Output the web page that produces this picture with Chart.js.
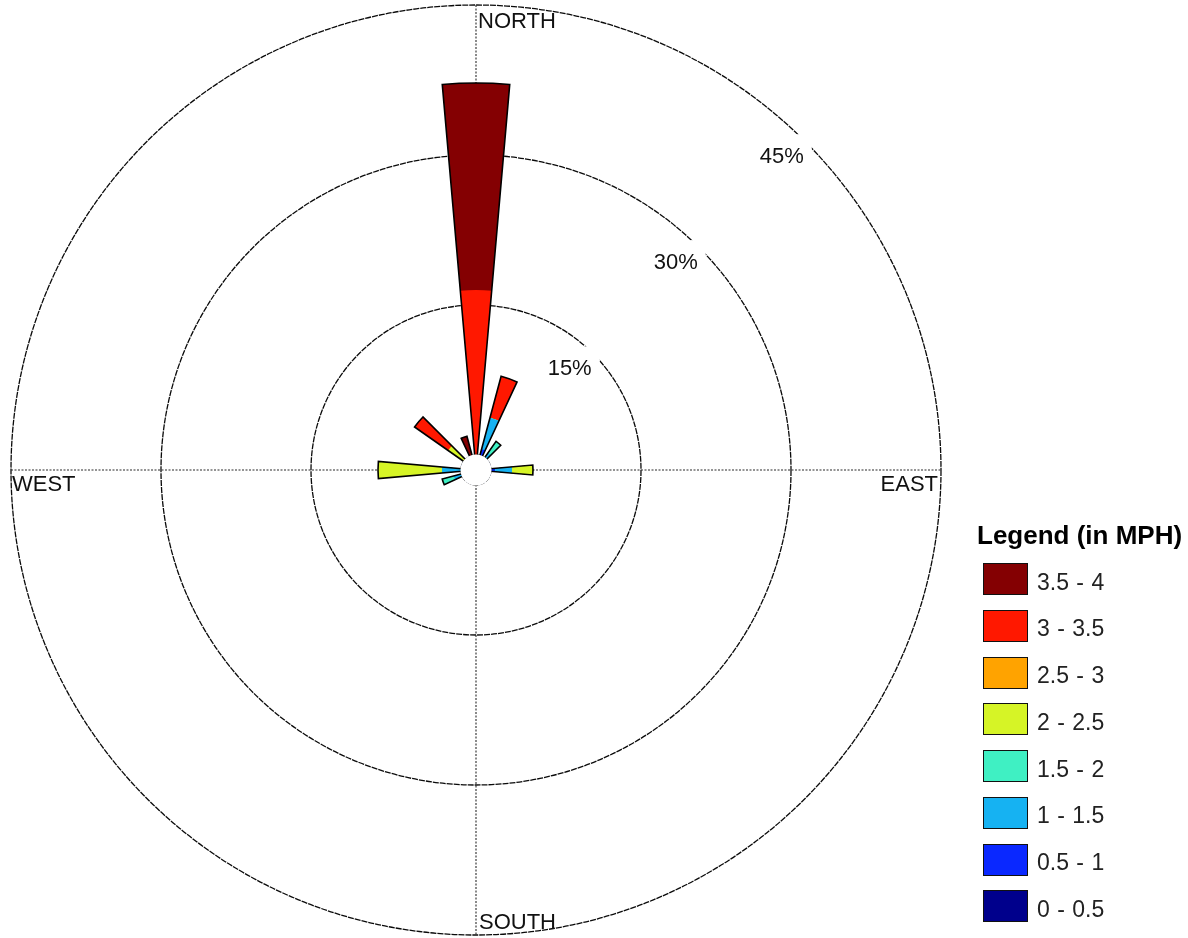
<!DOCTYPE html>
<html>
<head>
<meta charset="utf-8">
<title>Wind rose</title>
<script src="https://cdn.jsdelivr.net/npm/chart.js@4.4.1/dist/chart.umd.min.js"></script>
<style>
  html, body { margin: 0; padding: 0; background: #fff; }
  #wrap { position: relative; width: 1188px; height: 938px; overflow: hidden;
          font-family: "Liberation Sans", Arial, Helvetica, sans-serif; color: #000; }
  #rose { position: absolute; left: 0; top: 0; }
  #legend { position: absolute; left: 977px; top: 520px; }
  #legend .title { font-weight: bold; font-size: 26px; line-height: 30px; white-space: nowrap; }
  #legend ul { list-style: none; margin: 0; padding: 0; position: absolute; left: 6px; top: 43px; }
  #legend li { height: 32px; margin: 0 0 14.75px 0; display: flex; align-items: center; white-space: nowrap; }
  #legend .box { width: 45px; height: 32px; box-sizing: border-box; border: 1.5px solid #111; flex: none; }
  #legend .txt { font-size: 23px; word-spacing: 1px; margin-left: 9px; position: relative; top: 3px; color: #222; }
</style>
</head>
<body>
<div id="wrap">
  <canvas id="rose" width="1188" height="938"></canvas>
  <div id="legend"><div class="title">Legend (in MPH)</div><ul id="legendItems"></ul></div>
</div>
<script>
// Direction bins (degrees clockwise from north), 10° wide
const directions = [0, 10, 20, 30, 40, 50, 60, 70, 80, 90, 100, 110,
                    120, 130, 140, 150, 160, 170, 180, 190, 200, 210, 220, 230,
                    240, 250, 260, 270, 280, 290, 300, 310, 320, 330, 340, 350];

// Wind speed classes (MPH) and their colours
const speedBands = ['0 - 0.5', '0.5 - 1', '1 - 1.5', '1.5 - 2', '2 - 2.5', '2.5 - 3', '3 - 3.5', '3.5 - 4'];
const bandColors = ['#00008c', '#0a28ff', '#16b2f2', '#3ff0c3', '#d6f426', '#ffa300', '#ff1800', '#840002'];

// Frequency (% of time) for each speed class, one value per direction bin
//                 0    10   20    30  40   50 60 70 80  90  100 110 120 130 140 150 160 170 180 190 200 210 220 230 240 250  260 270  280 290 300 310  320 330 340  350
const freq_0_05  = [0,   0,  0,    0,  0,   0, 0, 0, 0,  0,   0, 0,  0,  0,  0,  0,  0,  0,  0,  0,  0,  0,  0,  0,  0,  0,   0,  0,   0,  0,  0,  0,   0,  0,  0,   0];
const freq_05_1  = [0,   0,  0.65, 0,  0,   0, 0, 0, 0,  0.4, 0, 0,  0,  0,  0,  0,  0,  0,  0,  0,  0,  0,  0,  0,  0,  0,   0,  0,   0,  0,  0,  0,   0,  0,  0,   0];
const freq_1_15  = [0,   0,  3.25, 0,  0.6, 0, 0, 0, 0,  1.7, 0, 0,  0,  0,  0,  0,  0,  0,  0,  0,  0,  0,  0,  0,  0,  0.8, 0,  1.9, 0,  0,  0,  0,   0,  0,  0,   0];
const freq_15_2  = [0,   0,  0,    0,  1.4, 0, 0, 0, 0,  0,   0, 0,  0,  0,  0,  0,  0,  0,  0,  0,  0,  0,  0,  0,  0,  1.2, 0,  0,   0,  0,  0,  0,   0,  0,  0,   0];
const freq_2_25  = [0,   0,  0,    0,  0,   0, 0, 0, 0,  2.1, 0, 0,  0,  0,  0,  0,  0,  0,  0,  0,  0,  0,  0,  0,  0,  0,   0,  6.4, 0,  0,  0,  1.9, 0,  0,  0,   0];
const freq_25_3  = [0,   0,  0,    0,  0,   0, 0, 0, 0,  0,   0, 0,  0,  0,  0,  0,  0,  0,  0,  0,  0,  0,  0,  0,  0,  0,   0,  0,   0,  0,  0,  0,   0,  0,  0,   0];
const freq_3_35  = [16.5,0,  4.3,  0,  0,   0, 0, 0, 0,  0,   0, 0,  0,  0,  0,  0,  0,  0,  0,  0,  0,  0,  0,  0,  0,  0,   0,  0,   0,  0,  0,  4.1, 0,  0,  0,   0];
const freq_35_4  = [20.7,0,  0,    0,  0,   0, 0, 0, 0,  0,   0, 0,  0,  0,  0,  0,  0,  0,  0,  0,  0,  0,  0,  0,  0,  0,   0,  0,   0,  0,  0,  0,   0,  0,  2.0, 0];

const bandFreqs = [freq_0_05, freq_05_1, freq_1_15, freq_15_2, freq_2_25, freq_25_3, freq_3_35, freq_35_4];

// Percentage rings and their labels
const ringValues = [15, 30, 45];
const ringLabels = ['15%', '30%', '45%'];

// Compass labels
const compassLabels = { north: 'NORTH', east: 'EAST', south: 'SOUTH', west: 'WEST' };

// Each speed class is drawn as a polar-area layer reaching its cumulative frequency;
// the lower classes sit on top, so every petal shows its stacked bands.
const cumulative = [];
let running = directions.map(() => 0);
bandFreqs.forEach(freqs => {
  running = running.map((v, i) => Math.round((v + freqs[i]) * 1000) / 1000);
  cumulative.push(running.slice());
});
const totals = cumulative[cumulative.length - 1];

const datasets = speedBands.map((label, b) => ({
  label,
  data: cumulative[b],
  backgroundColor: bandColors[b],
  borderWidth: 0
}));

const roseDecor = {
  id: 'roseDecor',
  beforeDatasetsDraw(chart) {
    const s = chart.scales.r, ctx = chart.ctx;
    const cx = s.xCenter, cy = s.yCenter;
    const R = s.getDistanceFromCenterForValue(s.max);
    ctx.save();
    // north-south and east-west axes
    ctx.strokeStyle = '#2a2a2a';
    ctx.lineWidth = 1.1;
    ctx.setLineDash([2, 1.5]);
    ctx.beginPath();
    ctx.moveTo(cx, cy - R); ctx.lineTo(cx, cy + R);
    ctx.moveTo(cx - R, cy); ctx.lineTo(cx + R, cy);
    ctx.stroke();
    ctx.setLineDash([]);
    // ring labels on a white backdrop near the 45° point of each ring
    ctx.font = '22px "Liberation Sans", Arial, sans-serif';
    ctx.textAlign = 'right';
    ctx.textBaseline = 'alphabetic';
    ringValues.forEach((v, i) => {
      const r = s.getDistanceFromCenterForValue(v);
      const px = cx + r * Math.SQRT1_2, py = cy - r * Math.SQRT1_2;
      const w = ctx.measureText(ringLabels[i]).width;
      ctx.fillStyle = '#fff';
      ctx.fillRect(px - w - 4, py - 7, w + 11, 36);
      ctx.fillStyle = '#111';
      ctx.fillText(ringLabels[i], px - 1, py + 22);
    });
    ctx.restore();
  },
  afterDatasetsDraw(chart) {
    const s = chart.scales.r, ctx = chart.ctx;
    const meta = chart.getDatasetMeta(datasets.length - 1);
    ctx.save();
    // outline every petal
    ctx.strokeStyle = '#000';
    ctx.lineWidth = 1.6;
    ctx.lineJoin = 'miter';
    meta.data.forEach((el, i) => {
      if (!(totals[i] > 0)) return;
      ctx.beginPath();
      ctx.moveTo(el.x, el.y);
      ctx.arc(el.x, el.y, el.outerRadius, el.startAngle, el.endAngle);
      ctx.closePath();
      ctx.stroke();
    });
    // calm circle in the middle
    ctx.fillStyle = '#fff';
    ctx.beginPath();
    ctx.arc(s.xCenter, s.yCenter, s.getDistanceFromCenterForValue(0) + 0.5, 0, Math.PI * 2);
    ctx.fill();
    ctx.restore();
  },
  afterDraw(chart) {
    const s = chart.scales.r, ctx = chart.ctx;
    const cx = s.xCenter, cy = s.yCenter;
    const R = s.getDistanceFromCenterForValue(s.max);
    ctx.save();
    ctx.font = '22px "Liberation Sans", Arial, sans-serif';
    ctx.fillStyle = '#111';
    ctx.textBaseline = 'alphabetic';
    ctx.textAlign = 'left';
    ctx.fillText(compassLabels.north, cx + 2, cy - R + 23);
    ctx.fillText(compassLabels.south, cx + 3, cy + R - 6);
    ctx.fillText(compassLabels.west, cx - R + 1, cy + 21);
    ctx.textAlign = 'right';
    ctx.fillText(compassLabels.east, cx + R - 3, cy + 21);
    ctx.restore();
  }
};

new Chart(document.getElementById('rose'), {
  type: 'polarArea',
  data: { labels: directions.map(d => d + '°'), datasets },
  options: {
    responsive: false,
    animation: false,
    events: [],
    layout: { padding: { left: 11, right: 247, top: 5, bottom: 3 } },
    plugins: { legend: { display: false }, tooltip: { enabled: false } },
    scales: {
      r: {
        min: -1.5,
        max: 45,
        startAngle: -5,
        afterBuildTicks: scale => { scale.ticks = [0].concat(ringValues).map(v => ({ value: v })); },
        ticks: { display: false },
        grid: { circular: true, color: '#0a0a0a', lineWidth: 1.3 },
        border: { dash: [6, 1] },
        angleLines: { display: false },
        pointLabels: { display: false }
      }
    }
  },
  plugins: [roseDecor]
});

// Legend, highest speed class first
const list = document.getElementById('legendItems');
speedBands.slice().reverse().forEach((label, j) => {
  const b = speedBands.length - 1 - j;
  const li = document.createElement('li');
  const box = document.createElement('span');
  box.className = 'box';
  box.style.background = bandColors[b];
  const txt = document.createElement('span');
  txt.className = 'txt';
  txt.textContent = label;
  li.appendChild(box);
  li.appendChild(txt);
  list.appendChild(li);
});
</script>
</body>
</html>
